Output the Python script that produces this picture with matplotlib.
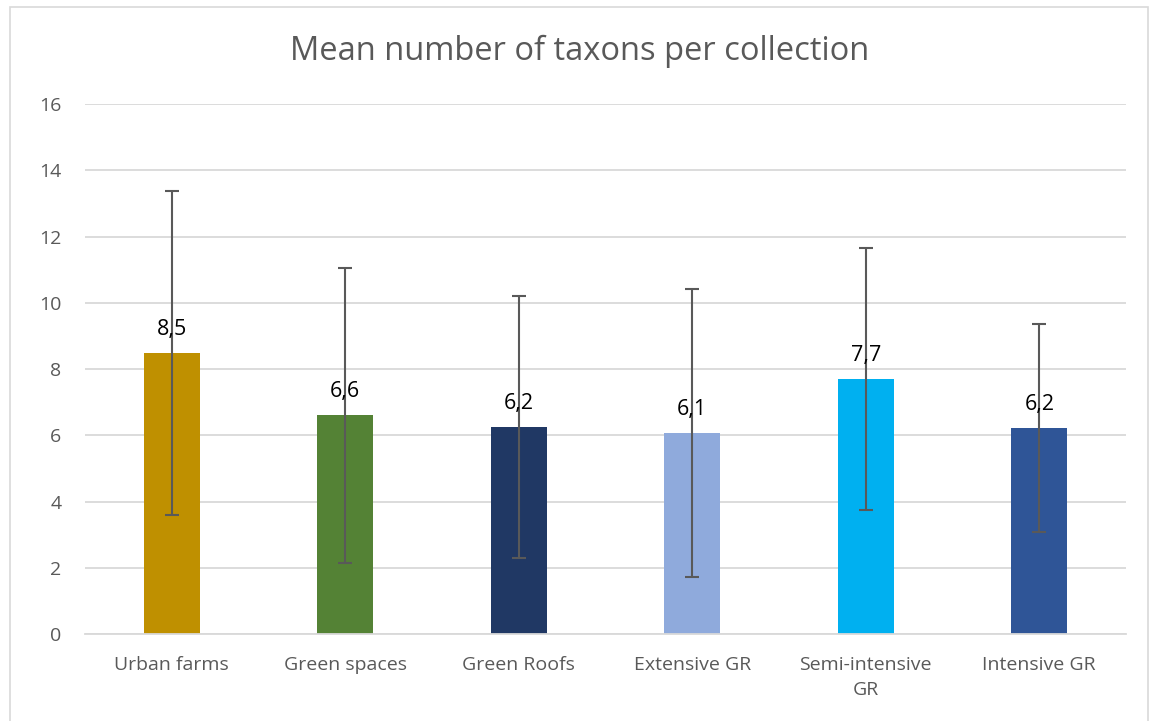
import matplotlib.pyplot as plt
from matplotlib.patches import Rectangle

categories = ["Urban farms", "Green spaces", "Green Roofs", "Extensive GR",
              "Semi-intensive\nGR", "Intensive GR"]
means = [8.48, 6.6, 6.24, 6.06, 7.7, 6.22]
labels = ["8,5", "6,6", "6,2", "6,1", "7,7", "6,2"]
errors = [4.9, 4.45, 3.95, 4.35, 3.95, 3.15]
colors = ["#BF9000", "#548235", "#203864", "#8FAADC", "#00B0F0", "#2F5597"]

plt.rcParams['font.family'] = ['Open Sans', 'DejaVu Sans']

fig = plt.figure(figsize=(11.59, 7.21), dpi=100)
ax = fig.add_axes([85 / 1159, 1 - 634 / 721, 1041 / 1159, 530 / 721])

x = range(len(categories))
ax.bar(x, means, width=0.32, color=colors, zorder=2)
ax.errorbar(x, means, yerr=errors, fmt="none", ecolor="#595959",
            elinewidth=1.5, capsize=5, capthick=1.5, zorder=3)

# data labels just above each bar
for i, (m, lab) in enumerate(zip(means, labels)):
    ax.annotate(lab, (i, m), xytext=(0, 13), textcoords="offset points",
                ha="center", va="baseline", fontsize=15.5, color="black",
                zorder=4)

ax.set_ylim(0, 16)
ax.set_xlim(-0.5, len(categories) - 0.5)
ax.set_yticks(range(0, 17, 2))
ax.yaxis.grid(True, color="#D9D9D9", linewidth=1.3, zorder=0)
ax.set_axisbelow(True)
ax.set_xticks(list(x))
ax.set_xticklabels(categories, fontsize=14, color="#595959", linespacing=1.5)
ax.tick_params(axis="y", labelsize=14, labelcolor="#595959", length=0, pad=17)
ax.tick_params(axis="x", length=0, pad=16)
for s in ["top", "right", "left"]:
    ax.spines[s].set_visible(False)
ax.spines["bottom"].set_color("#D9D9D9")
ax.spines["bottom"].set_linewidth(1.3)

fig.text(0.5, 1 - 51 / 721, "Mean number of taxons per collection",
         ha="center", va="center", fontsize=23.5, color="#595959")

fig.patches.append(Rectangle((10 / 1159, -0.01), 1138 / 1159, 1 - 7 / 721 + 0.01,
                             transform=fig.transFigure, fill=False,
                             edgecolor="#D9D9D9", linewidth=1.2))

plt.savefig("out.png", dpi=100)
plt.close()
